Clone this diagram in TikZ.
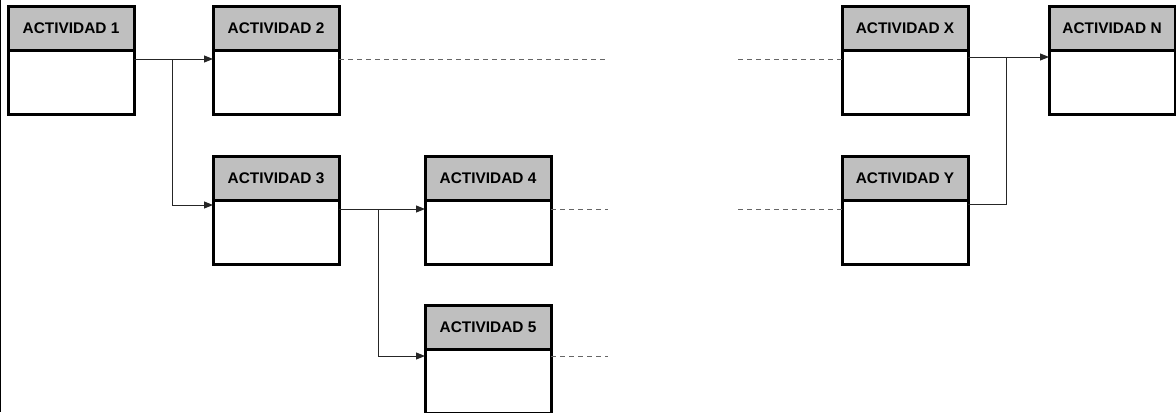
\documentclass[tikz,border=0pt]{standalone}
\usepackage{fontspec}
\setmainfont{Liberation Sans}
\usetikzlibrary{positioning,arrows.meta}
\begin{document}
\begin{tikzpicture}[x=0.5pt,y=-0.5pt,>={Triangle[length=4.5pt,width=3.5pt]}, font=\bfseries\fontsize{7.7}{9}\selectfont, line join=miter,
	hdr/.style={draw,line width=1.5pt,fill=black!25,minimum width=63pt,minimum height=22pt,inner sep=0pt,outer sep=0pt,anchor=north west},
	body/.style={draw,line width=1.5pt,fill=white,minimum width=63pt,minimum height=32pt,inner sep=0pt,outer sep=0pt,below=0pt of #1},
	conn/.style={line width=0.5pt,black!85},
	pending/.style={line width=0.5pt,black!60,dash pattern=on 2.5pt off 2pt}]
	\useasboundingbox (0,0) rectangle (1176,412);
	\draw[line width=0.75pt] (0.5,0)--(0.5,412);
	% cajas
	\node[hdr] (h1) at (8,6) {ACTIVIDAD 1};   \node[body=h1] (b1) {};
	\node[hdr] (h2) at (213,6) {ACTIVIDAD 2}; \node[body=h2] (b2) {};
	\node[hdr] (h3) at (213,156) {ACTIVIDAD 3}; \node[body=h3] (b3) {};
	\node[hdr] (h4) at (425,156) {ACTIVIDAD 4}; \node[body=h4] (b4) {};
	\node[hdr] (h5) at (425,305) {ACTIVIDAD 5}; \node[body=h5] (b5) {};
	\node[hdr] (hx) at (842,6) {ACTIVIDAD X}; \node[body=hx] (bx) {};
	\node[hdr] (hy) at (842,156) {ACTIVIDAD Y}; \node[body=hy] (by) {};
	\node[hdr] (hn) at (1049,6) {ACTIVIDAD N}; \node[body=hn] (bn) {};
	% enlaces
	\path ([yshift=-4.5pt]b1.north east) ++(38,0) coordinate (j1);
	\path ([yshift=-4.5pt]b3.north east) ++(39,0) coordinate (j2);
	\path ([yshift=-3.5pt]bx.north east) ++(38,0) coordinate (j3);
	\draw[conn,->] ([yshift=-4.5pt]b1.north east) -- ([yshift=-4.5pt]b2.north west);
	\draw[conn,->] (j1) |- ([yshift=-2.5pt]b3.north west);
	\draw[conn,->] ([yshift=-4.5pt]b3.north east) -- ([yshift=-4.5pt]b4.north west);
	\draw[conn,->] (j2) |- ([yshift=-3.5pt]b5.north west);
	\draw[conn,->] ([yshift=-3.5pt]bx.north east) -- ([yshift=-3.5pt]bn.north west);
	\draw[conn] ([yshift=-2pt]by.north east) -| (j3);
	% continua...
	\path ([yshift=-4.5pt]b2.north east) ++(266,0) coordinate (c2);
	\path ([yshift=-4.5pt]bx.north west) ++(-104,0) coordinate (cx);
	\path ([yshift=-4.5pt]b4.north east) ++(57,0) coordinate (c4);
	\path ([yshift=-4.5pt]by.north west) ++(-104,0) coordinate (cy);
	\path ([yshift=-3.5pt]b5.north east) ++(57,0) coordinate (c5);
	\draw[pending] ([yshift=-4.5pt]b2.north east) -- (c2);
	\draw[pending] (cx) -- ([yshift=-4.5pt]bx.north west);
	\draw[pending] ([yshift=-4.5pt]b4.north east) -- (c4);
	\draw[pending] (cy) -- ([yshift=-4.5pt]by.north west);
	\draw[pending] ([yshift=-3.5pt]b5.north east) -- (c5);
\end{tikzpicture}
\end{document}
